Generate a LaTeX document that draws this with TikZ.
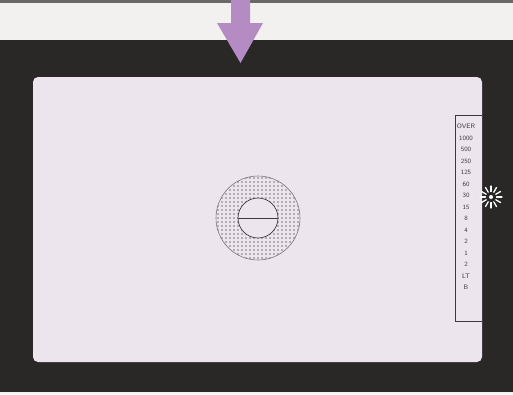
\documentclass[tikz,border=0pt]{standalone}
\usetikzlibrary{arrows.meta,calc}
\definecolor{paper}{HTML}{F3F1EF}
\definecolor{frame}{HTML}{2A2727}
\definecolor{panel}{HTML}{EDE5EE}
\definecolor{arrowc}{HTML}{B48BC2}
\definecolor{dotc}{HTML}{7A7478}
\definecolor{linec}{HTML}{3E383C}
\tikzset{
  thinline/.style={draw=linec, line width=0.6pt},
  scalelbl/.style={font=\fontsize{6.5}{11.5}\selectfont\sffamily, text=linec, align=center, inner sep=0pt, anchor=north},
  ray/.style={draw=white!88!panel, line width=1.3pt, line cap=round}
}
\begin{document}
\begin{tikzpicture}[x=1pt,y=-1pt]
\useasboundingbox (0,0) rectangle (513,394);
% backgrounds
\fill[paper] (0,0) rectangle (513,394);
\fill[frame!70] (0,0) rectangle (513,2.5);
\fill[frame] (0,40) rectangle (513,392);
% panel
\fill[panel, rounded corners=5pt] (33,77) rectangle (482,362);
% target circle stipple
\coordinate (c) at (258,218);
\begin{scope}
  \clip (c) circle (42);
  \foreach \i in {-11,...,11}{
    \foreach \j in {-11,...,11}{
      \fill[dotc] ($(c)+(\i*4,\j*4)$) circle (0.85);
    }
  }
\end{scope}
\draw[dotc, line width=0.6pt] (c) circle (42);
\fill[panel] (c) circle (20);
\draw[linec, line width=0.7pt] (c) circle (20);
\draw[linec, line width=0.7pt] ($(c)+(-20,0)$) -- ($(c)+(20,0)$);
% scale box
\draw[thinline] (482,115) -- (455,115) -- (455,321) -- (482,321);
\node[scalelbl] (scale) at (466,124) {OVER\\1000\\500\\250\\125\\60\\30\\15\\8\\4\\2\\1\\2\\LT\\B};
% starburst
\coordinate (burst) at (491,197);
\fill[white!85!panel] (burst) circle (2);
\foreach \a in {0,30,...,330}{
  \draw[ray] ($(burst)+(\a:5.5)$) -- ($(burst)+(\a:11)$);
}
% arrow
\fill[arrowc] (231,0) -- (250,0) -- (250,23) -- (263,23) -- (240.5,63) -- (217,23) -- (231,23) -- cycle;
\end{tikzpicture}
\end{document}
